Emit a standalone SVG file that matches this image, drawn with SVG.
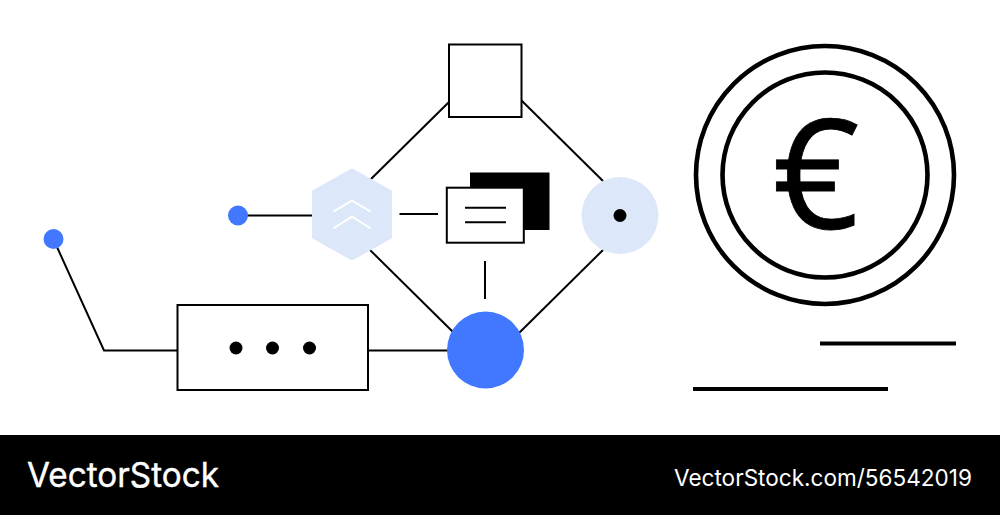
<svg xmlns="http://www.w3.org/2000/svg" width="1000" height="515" viewBox="0 0 1000 515">
<style>
.l{fill:none;stroke:#000;stroke-width:2}
.b{fill:#fff;stroke:#000;stroke-width:2}
.k{fill:none;stroke:#000;stroke-width:4.600}
.c{fill:none;stroke:#fff;stroke-width:2}
.t{fill:#fff;font-family:Inter,"Liberation Sans",sans-serif;font-weight:400}
</style>
<rect width="1000" height="515" fill="#fff"/>
<g id="connectors">
<path class="l" d="M57 247L104 350.500H178"/>
<path class="l" d="M246 215.500H312"/>
<path class="l" d="M368 350.500H448"/>
<path class="l" d="M449 102L371 179"/>
<path class="l" d="M521 100L603 181"/>
<path class="l" d="M370 250L453 332"/>
<path class="l" d="M603 250L519 333"/>
<path class="l" d="M399.500 214H438"/>
<path class="l" d="M485 261V299"/>
</g>
<g id="dot-far"><circle cx="53.500" cy="239" r="10" fill="#4178ff"/></g>
<g id="dot-near"><circle cx="238" cy="215.500" r="10" fill="#4178ff"/></g>
<g id="menu-box">
<rect class="b" x="177.500" y="305" width="190.500" height="85"/>
<circle cx="236" cy="348" r="6.500"/><circle cx="272.500" cy="348" r="6.500"/><circle cx="309.500" cy="348" r="6.500"/>
</g>
<g id="top-square"><rect class="b" x="449" y="44.500" width="72.500" height="72.500"/></g>
<g id="hexagon">
<polygon points="352,168.300 392,190.700 392,238.300 352,260.500 312,238.300 312,190.700" fill="#dde7fa"/>
<path class="c" d="M333.300 211.700L352 200.700L370.700 211.700M333.300 228.300L352 216.700L370.700 228.300"/>
</g>
<g id="documents">
<rect x="470" y="172.500" width="79.500" height="57.500"/>
<rect class="b" x="446.800" y="187.700" width="77" height="55"/>
<path class="l" d="M465 207.700H506M465 222.300H506"/>
</g>
<g id="target"><circle cx="620" cy="215.500" r="38.500" fill="#dde7fa"/><circle cx="620" cy="215.500" r="6.500"/></g>
<g id="blue-node"><circle cx="485.500" cy="350" r="38.500" fill="#4178ff"/></g>
<g id="coin">
<circle class="k" cx="825" cy="175" r="129"/>
<circle class="k" cx="825" cy="175" r="102.500"/>
<text x="816" y="228.500" font-size="152" text-anchor="middle" font-family="'Open Sans',sans-serif" stroke="#000" stroke-width="0.800">€</text>
</g>
<g id="bars">
<path class="l" style="stroke-width:4" d="M820 343.500H956M693 389H888"/>
</g>
<g id="footer">
<rect y="435" width="1000" height="80"/>
<text class="t" x="27" y="486.500" font-size="34.500" textLength="192" lengthAdjust="spacingAndGlyphs" stroke="#fff" stroke-width="0.400">VectorStock</text>
<text class="t" x="674" y="486" font-size="23" textLength="298" lengthAdjust="spacingAndGlyphs">VectorStock.com/56542019</text>
</g>
</svg>
